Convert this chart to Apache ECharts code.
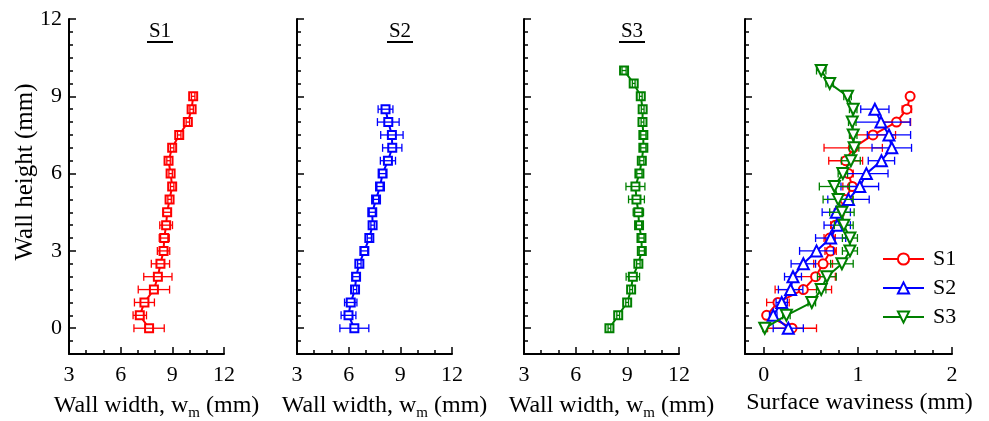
<!DOCTYPE html>
<html>
<head>
<meta charset="utf-8">
<script src="https://cdn.jsdelivr.net/npm/echarts@6/dist/echarts.min.js"></script>
<style>
  html, body { margin: 0; padding: 0; background: #fff; }
  #chart { width: 989px; height: 421px; }
</style>
</head>
<body>
<div id="chart"></div>
<script>
// Heights along the wall (mm)
const heightS1 = [0, 0.5, 1, 1.5, 2, 2.5, 3, 3.5, 4, 4.5, 5, 5.5, 6, 6.5, 7, 7.5, 8, 8.5, 9];
const heightS2 = [0, 0.5, 1, 1.5, 2, 2.5, 3, 3.5, 4, 4.5, 5, 5.5, 6, 6.5, 7, 7.5, 8, 8.5];
const heightS3 = [0, 0.5, 1, 1.5, 2, 2.5, 3, 3.5, 4, 4.5, 5, 5.5, 6, 6.5, 7, 7.5, 8, 8.5, 9, 9.5, 10];

// Wall width w_m (mm) and its scatter (half range)
const widthS1    = [7.65, 7.11, 7.38, 7.93, 8.16, 8.31, 8.49, 8.53, 8.64, 8.70, 8.84, 8.99, 8.90, 8.78, 8.99, 9.40, 9.90, 10.12, 10.21];
const widthErrS1 = [0.88, 0.39, 0.58, 0.91, 0.82, 0.53, 0.36, 0.29, 0.37, 0.24, 0.10, 0.10, 0.10, 0.10, 0.10, 0.10, 0.10, 0.10, 0.10];
const widthS2    = [6.33, 5.99, 6.12, 6.37, 6.43, 6.62, 6.91, 7.20, 7.39, 7.37, 7.59, 7.82, 7.97, 8.28, 8.53, 8.51, 8.30, 8.14];
const widthErrS2 = [0.84, 0.43, 0.36, 0.10, 0.20, 0.10, 0.20, 0.12, 0.10, 0.18, 0.15, 0.18, 0.20, 0.44, 0.56, 0.65, 0.63, 0.43];
const widthS3    = [7.96, 8.47, 8.99, 9.22, 9.32, 9.64, 9.84, 9.82, 9.68, 9.64, 9.53, 9.47, 9.70, 9.84, 9.93, 9.93, 9.88, 9.89, 9.78, 9.37, 8.81];
const widthErrS3 = [0.08, 0.08, 0.08, 0.08, 0.39, 0.10, 0.15, 0.15, 0.15, 0.30, 0.46, 0.55, 0.15, 0.12, 0.15, 0.15, 0.08, 0.08, 0.08, 0.08, 0.12];

// Surface waviness (mm) and its scatter
const wavS1    = [0.30, 0.03, 0.15, 0.42, 0.55, 0.63, 0.71, 0.70, 0.76, 0.80, 0.86, 0.94, 0.90, 0.87, 0.95, 1.16, 1.41, 1.52, 1.555];
const wavErrS1 = [0.26, 0.03, 0.12, 0.30, 0.21, 0.10, 0.06, 0.06, 0.05, 0.05, 0.08, 0.10, 0.05, 0.18, 0.31, 0.24, 0.15, 0.05, 0.02];
const wavS2    = [0.26, 0.10, 0.19, 0.285, 0.31, 0.42, 0.56, 0.71, 0.78, 0.77, 0.90, 1.02, 1.09, 1.25, 1.36, 1.33, 1.245, 1.18];
const wavErrS2 = [0.16, 0.04, 0.06, 0.13, 0.09, 0.13, 0.18, 0.16, 0.14, 0.15, 0.22, 0.20, 0.23, 0.14, 0.21, 0.23, 0.31, 0.15];
const wavS3    = [0.01, 0.24, 0.51, 0.61, 0.67, 0.83, 0.915, 0.915, 0.85, 0.83, 0.79, 0.75, 0.84, 0.925, 0.96, 0.95, 0.94, 0.95, 0.89, 0.70, 0.61];
const wavErrS3 = [0.02, 0.04, 0.04, 0.05, 0.10, 0.12, 0.08, 0.08, 0.10, 0.13, 0.16, 0.16, 0.05, 0.10, 0.05, 0.04, 0.04, 0.04, 0.04, 0.04, 0.05];

// Tick labels
const heightTicks = [0, 3, 6, 9, 12];
const widthTicks = [3, 6, 9, 12];
const wavTicks = [0, 1, 2];

const specimenNames = ['S1', 'S2', 'S3'];
const colors = ['#ff0000', '#0000ff', '#008000'];

const FONT = '"Liberation Serif", "Times New Roman", serif';
const INK = '#000';

const pairs = (xs, ys) => xs.map((x, i) => [x, ys[i]]);
const triples = (xs, ys, es) => xs.map((x, i) => [x, ys[i], es[i]]);

// Horizontal scatter bar with end caps
function errorBar(color, cap) {
  return function (params, api) {
    const x = api.value(0), y = api.value(1), e = api.value(2);
    const l = api.coord([x - e, y]);
    const r = api.coord([x + e, y]);
    const style = { stroke: color, lineWidth: 1.3, fill: null };
    return {
      type: 'group',
      children: [
        { type: 'line', shape: { x1: l[0], y1: l[1], x2: r[0], y2: r[1] }, style },
        { type: 'line', shape: { x1: l[0], y1: l[1] - cap, x2: l[0], y2: l[1] + cap }, style },
        { type: 'line', shape: { x1: r[0], y1: r[1] - cap, x2: r[0], y2: r[1] + cap }, style }
      ]
    };
  };
}

const panelLeft = [69, 297, 524, 745];
const panelWidth = [155, 155, 155, 207];

const grid = panelLeft.map((left, i) => ({
  left, width: panelWidth[i], top: 19, bottom: 67,
  containLabel: false, outerBoundsMode: 'none', show: false
}));

const axisLine = { show: true, onZero: false, lineStyle: { color: INK, width: 2 } };
const hiddenLine = { show: false, onZero: false };
const labelStyle = { color: INK, fontFamily: FONT, fontSize: 22 };
const nameStyle = (shift) => ({
  color: INK, fontFamily: FONT, fontSize: 24, lineHeight: 24,
  padding: [0, 0, 0, shift],
  rich: { sub: { fontFamily: FONT, fontSize: 15, lineHeight: 15, padding: [15, 0, 0, 0], color: INK } }
});

const xAxis = [];
const yAxis = [];
const mainX = [];
const mainY = [];

for (let i = 0; i < 4; i++) {
  const isWav = i === 3;
  mainX.push(xAxis.length);
  xAxis.push({
    gridIndex: i, type: 'value', position: 'bottom',
    min: isWav ? -0.2 : 3, max: isWav ? 2 : 12,
    axisLine,
    axisTick: { show: true, inside: true, length: 7, customValues: isWav ? wavTicks : widthTicks,
                lineStyle: { color: INK, width: 1.5 } },
    axisLabel: { show: true, margin: 10, customValues: isWav ? wavTicks : widthTicks, ...labelStyle },
    splitLine: { show: false },
    name: isWav ? 'Surface waviness (mm)' : 'Wall width, w{sub|m} (mm)',
    nameLocation: 'middle', nameGap: isWav ? 37 : 34,
    nameTextStyle: nameStyle(isWav ? 22 : 20)
  });
  // minor ticks
  xAxis.push({
    gridIndex: i, type: 'value', position: 'bottom',
    min: isWav ? -0.2 : 3, max: isWav ? 2 : 12, interval: isWav ? 0.2 : 1,
    axisLine: hiddenLine,
    axisTick: { show: true, inside: true, length: 4, lineStyle: { color: INK, width: 1.5 } },
    axisLabel: { show: false },
    splitLine: { show: false }
  });

  mainY.push(yAxis.length);
  yAxis.push({
    gridIndex: i, type: 'value', position: 'left',
    min: -1, max: 12,
    axisLine,
    axisTick: { show: true, inside: true, length: 7, customValues: heightTicks,
                lineStyle: { color: INK, width: 1.5 } },
    axisLabel: { show: i === 0, margin: 7, customValues: heightTicks, ...labelStyle },
    splitLine: { show: false }
  });
  // minor ticks
  yAxis.push({
    gridIndex: i, type: 'value', position: 'left',
    min: -1, max: 12, interval: 0.5,
    axisLine: hiddenLine,
    axisTick: { show: true, inside: true, length: 4, lineStyle: { color: INK, width: 1.5 } },
    axisLabel: { show: false },
    splitLine: { show: false }
  });
}

const widthData = [
  [widthS1, widthErrS1, heightS1],
  [widthS2, widthErrS2, heightS2],
  [widthS3, widthErrS3, heightS3]
];
const wavData = [
  [wavS1, wavErrS1, heightS1],
  [wavS2, wavErrS2, heightS2],
  [wavS3, wavErrS3, heightS3]
];

const series = [];

// Wall width panels
widthData.forEach(([w, e, h], i) => {
  series.push({
    name: specimenNames[i] + ' width', type: 'line',
    xAxisIndex: mainX[i], yAxisIndex: mainY[i],
    data: pairs(w, h),
    clip: false,
    symbol: 'emptyRect', symbolSize: 8,
    lineStyle: { color: colors[i], width: 2 },
    itemStyle: { color: colors[i], borderColor: colors[i], borderWidth: 1.6 },
    z: 3
  });
  series.push({
    name: specimenNames[i] + ' width scatter', type: 'custom',
    xAxisIndex: mainX[i], yAxisIndex: mainY[i],
    data: triples(w, h, e),
    encode: { x: 0, y: 1 },
    renderItem: errorBar(colors[i], 4),
    z: 4, silent: true
  });
});

// Surface waviness panel
const wavSymbols = ['emptyCircle', 'emptyTriangle', 'emptyTriangle'];
const wavRotate = [0, 0, 180];
const wavSize = [9, 11, 11];
wavData.forEach(([w, e, h], i) => {
  series.push({
    name: specimenNames[i], type: 'line',
    xAxisIndex: mainX[3], yAxisIndex: mainY[3],
    data: pairs(w, h),
    clip: false,
    symbol: wavSymbols[i], symbolSize: wavSize[i], symbolRotate: wavRotate[i],
    lineStyle: { color: colors[i], width: 2 },
    itemStyle: { color: colors[i], borderColor: colors[i], borderWidth: 1.6 },
    z: 3 + i
  });
  series.push({
    name: specimenNames[i] + ' waviness scatter', type: 'custom',
    xAxisIndex: mainX[3], yAxisIndex: mainY[3],
    data: triples(w, h, e),
    encode: { x: 0, y: 1 },
    renderItem: errorBar(colors[i], 4),
    z: 3 + i, silent: true
  });
});

// Panel headings (underlined) and the shared height axis title
const headingX = [160, 400, 632];
const graphic = [];
headingX.forEach((cx, i) => {
  graphic.push({
    type: 'text', x: cx, y: 31,
    style: { text: specimenNames[i], font: '21px ' + FONT, fill: INK, align: 'center', verticalAlign: 'middle' }
  });
  graphic.push({
    type: 'rect', shape: { x: cx - 13, y: 41, width: 26, height: 2 }, style: { fill: INK }
  });
});
graphic.push({
  type: 'text', x: 25, y: 172, rotation: Math.PI / 2,
  style: { text: 'Wall height (mm)', font: '25px ' + FONT, fill: INK,
           align: 'center', verticalAlign: 'middle' }
});

const option = {
  backgroundColor: '#fff',
  animation: false,
  grid, xAxis, yAxis, series, graphic,
  legend: {
    data: specimenNames,
    orient: 'vertical', left: 877, top: 243,
    itemWidth: 41, itemHeight: 14, itemGap: 7,
    textStyle: { color: INK, fontFamily: FONT, fontSize: 22, padding: [0, 0, 0, 4] }
  }
};

const chart = echarts.init(document.getElementById('chart'), null, { renderer: 'canvas' });
chart.setOption(option);
</script>
</body>
</html>
